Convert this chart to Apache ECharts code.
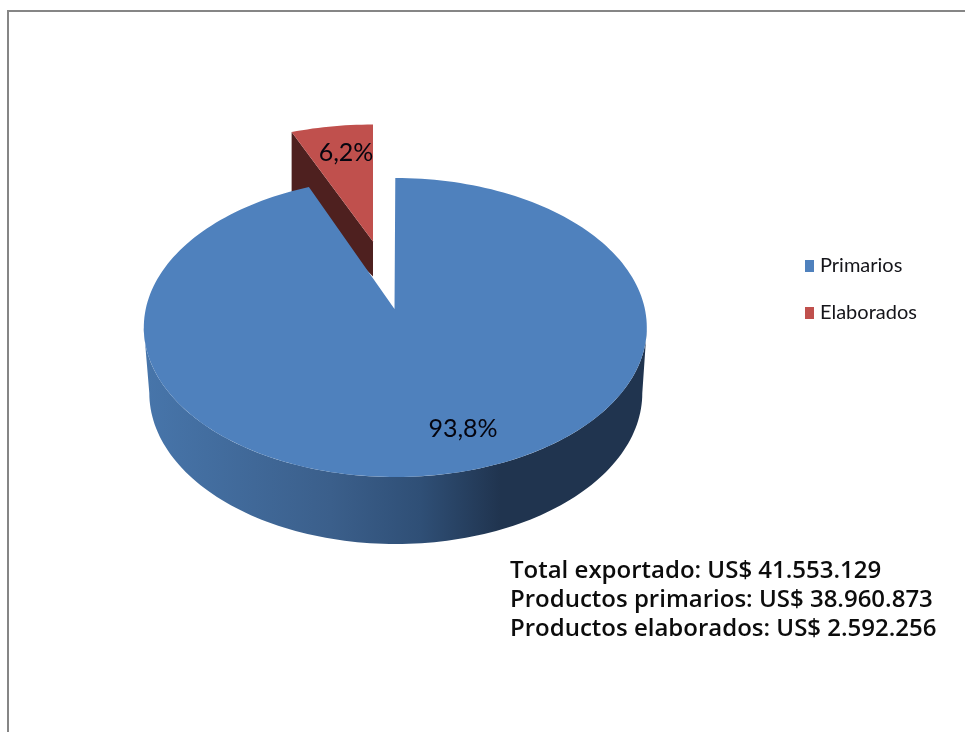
<!DOCTYPE html>
<html>
<head>
<meta charset="utf-8">
<style>html,body{margin:0;padding:0;background:#fff}#c{width:965px;height:732px}</style>
<script src="https://cdn.jsdelivr.net/npm/echarts@6/dist/echarts.min.js"></script>
</head>
<body>
<div id="c"></div>
<script>
// Data
const categories = ['Primarios', 'Elaborados'];
const exportValues = [38960873, 2592256];
const shareLabels = ['93,8%', '6,2%'];
const summaryLabels = ['Total exportado', 'Productos primarios', 'Productos elaborados'];
const summaryValues = [41553129, 38960873, 2592256];

const total = exportValues[0] + exportValues[1];
const fmt = v => String(v).replace(/\B(?=(\d{3})+$)/g, '.');
const D2R = Math.PI / 180;
const labelFont = '25px Lato, sans-serif';

function ell(cx, cy, rx, ry, deg) {
  return [cx + rx * Math.sin(deg * D2R), cy - ry * Math.cos(deg * D2R)];
}
function arc(cx, cy, rx, ry, a, b) {
  const n = Math.max(8, Math.ceil(Math.abs(b - a) / 1.5)), out = [];
  for (let i = 0; i <= n; i++) out.push(ell(cx, cy, rx, ry, a + (b - a) * i / n));
  return out;
}

function renderBlue(params, api) {
  const sweep = api.value(0) / total * 360 * 1.007;
  const T = { cx: 395.3, cy: 327.5, rx: 251.5, ry: 149.5 };
  const B = { cx: 395.8, cy: 393, rx: 246.5, ry: 151 };
  const side = arc(T.cx, T.cy, T.rx, T.ry, 90, 270)
    .concat(arc(B.cx, B.cy, B.rx, B.ry, 270, 90));
  const top = [[394.5, 309]].concat(arc(T.cx, T.cy, T.rx, T.ry, 0, sweep));
  return { type: 'group', children: [
    { type: 'polygon', shape: { points: side }, style: {
      fill: new echarts.graphic.LinearGradient(146, 0, 645, 0, [
        { offset: 0, color: '#4775aa' },
        { offset: 0.37, color: '#3b5f8b' },
        { offset: 0.55, color: '#2f4f76' },
        { offset: 0.71, color: '#20344f' },
        { offset: 1, color: '#20344f' }
      ], true)
    } },
    { type: 'polygon', shape: { points: top }, style: { fill: '#4f81bd' } },
    { type: 'text', x: 463, y: 429, style: {
      text: shareLabels[0], fill: '#05050f', align: 'center', verticalAlign: 'middle',
      font: labelFont } }
  ] };
}

function renderRed(params, api) {
  const sweep = api.value(0) / total * 360;
  const R = { cx: 373, cy: 224.5, rx: 213, ry: 100 };
  const apex = [373, 241.5];
  const left = ell(R.cx, R.cy, R.rx, R.ry, -sweep);
  const top = [apex].concat(arc(R.cx, R.cy, R.rx, R.ry, 0, -sweep));
  const wall = [left, apex, [apex[0], apex[1] + 35], [left[0], left[1] + 63]];
  return { type: 'group', children: [
    { type: 'polygon', shape: { points: wall }, style: { fill: '#4e201f' } },
    { type: 'polygon', shape: { points: top }, style: { fill: '#c0504d' } },
    { type: 'text', x: 346, y: 153, style: {
      text: shareLabels[1], fill: '#05050f', align: 'center', verticalAlign: 'middle',
      font: labelFont } }
  ] };
}

const chart = echarts.init(document.getElementById('c'), null, { renderer: 'canvas' });
chart.setOption({
  animation: false,
  backgroundColor: '#ffffff',
  color: ['#4f81bd', '#c0504d'],
  legend: {
    orient: 'vertical', left: 800, top: 251,
    data: categories,
    icon: 'rect', itemWidth: 9, itemHeight: 12, itemGap: 27,
    selectedMode: false,
    textStyle: { fontFamily: 'Lato, sans-serif', fontSize: 20, color: '#15151a', padding: [0, 0, 0, 1] }
  },
  graphic: [
    { type: 'polyline', shape: { points: [[8, 732], [8, 11], [965, 11]] }, style: { stroke: '#868686', lineWidth: 2, fill: null } },
    ...summaryLabels.map((s, i) => ({
      type: 'text', left: 510, top: 559 + i * 29,
      style: { text: s + ': US$ ' + fmt(summaryValues[i]), fill: '#0c0c0c', font: '600 24px "Open Sans", sans-serif' }
    }))
  ],
  series: [
    { type: 'custom', name: categories[1], coordinateSystem: 'none', renderItem: renderRed, data: [exportValues[1]], z: 1, itemStyle: { color: '#c0504d' }, silent: true },
    { type: 'custom', name: categories[0], coordinateSystem: 'none', renderItem: renderBlue, data: [exportValues[0]], z: 2, itemStyle: { color: '#4f81bd' }, silent: true }
  ]
});
</script>
</body>
</html>
